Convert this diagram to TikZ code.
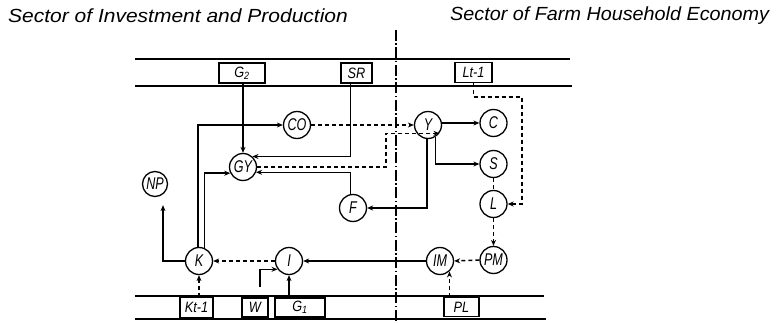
\documentclass[tikz,border=0pt]{standalone}
\usepackage{fontspec}
\newfontfamily\hand{Liberation Sans}[FakeStretch=0.85]
\newfontfamily\handc{Liberation Sans}[FakeStretch=0.74]
\usetikzlibrary{arrows.meta,calc}
\begin{document}
\begin{tikzpicture}[x=1pt,y=-1pt,
  ln/.style={line width=1.5pt},
  arr/.style={ln,-{Stealth[length=6pt,width=5pt]}},
  dsh/.style={dash pattern=on 4pt off 3pt},
  circ/.style={circle,draw,line width=1.3pt,minimum size=27pt,inner sep=0pt,
    font=\handc\itshape\fontsize{17}{17}\selectfont},
  lbox/.style={draw,line width=1.3pt,inner sep=0pt,
    font=\hand\itshape\fontsize{15}{15}\selectfont},
  hdr/.style={anchor=west,inner sep=0pt,font=\hand\itshape\fontsize{19}{19}\selectfont},
  sep/.style={line width=1.1pt,dash pattern=on 11pt off 2.5pt on 1.5pt off 2.5pt}
]
\useasboundingbox (0,0) rectangle (777,323);

% headers
\node[hdr] (h1) at (8,16) {\scalebox{1.30}[1]{Sector of Investment and Production}};
\node[hdr] (h2) at (450,16) {\scalebox{1.225}[1]{Sector of Farm Household Economy}};

% separator and bands
\coordinate (sepT) at (396,30);
\coordinate (sepB) at (396,323);
\draw[sep] (sepT) -- (sepB);
\coordinate (t1a) at (135,59);  \coordinate (t1b) at (570,59);
\coordinate (t2a) at (135,86);  \coordinate (t2b) at (572,86);
\coordinate (b1a) at (135,296); \coordinate (b1b) at (544,296);
\coordinate (b2a) at (135,319); \coordinate (b2b) at (546,319);
\draw[ln] (t1a) -- (t1b);
\draw[ln] (t2a) -- (t2b);
\draw[ln] (b1a) -- (b1b);
\draw[ln] (b2a) -- (b2b);

% boxes
\node[lbox,minimum width=46pt,minimum height=20pt] (G2) at (242,73) {G\textsubscript{2}};
\node[lbox,minimum width=31pt,minimum height=20pt] (SR) at (356.5,73) {SR};
\node[lbox,minimum width=37pt,minimum height=20pt] (Lt) at (473.5,72.5) {Lt-1};
\node[lbox,minimum width=33pt,minimum height=20pt] (Kt) at (196.5,307.5) {Kt-1};
\node[lbox,minimum width=26pt,minimum height=19pt] (W) at (255,307.5) {W};
\node[lbox,minimum width=50pt,minimum height=19pt] (G1) at (300,307.5) {G\textsubscript{1}};
\node[lbox,minimum width=35pt,minimum height=19pt] (PL) at (461.5,307) {PL};

% circles
\node[circ] (CO) at (297,125) {CO};
\node[circ] (GY) at (243,167) {GY};
\node[circ,minimum size=25pt] (NP) at (155,184) {NP};
\node[circ] (Y) at (428,125) {Y};
\node[circ] (C) at (493.5,123) {C};
\node[circ] (S) at (493.5,164) {S};
\node[circ] (L) at (493.5,204) {L};
\node[circ] (F) at (353,208) {F};
\node[circ] (K) at (199,261) {K};
\node[circ] (I) at (289,261) {I};
\node[circ] (IM) at (440,261) {IM};
\node[circ] (PM) at (493.5,260) {PM};

% bend points
\coordinate (gyb) at (386,150);
\coordinate (ltb) at (522,97);

% connectors: investment and production
\draw[arr] (G2.south -| GY.north) -- (GY.north);
\draw[arr] ([xshift=-6pt]SR.south) |- (GY.48);
\draw[arr] (F.100) |- (GY.-22);
\draw[arr,dsh] (GY.east) -| (gyb |- Y.-36) -- (Y.-36);
\draw[arr,dsh] (CO.east) -- (Y.west);
\draw[arr] (K.94) |- (CO.west);
\draw[arr] (K.68) |- (GY.206);
\draw[arr,shorten >=8pt] (K.west) -| ([xshift=8pt]NP.south);
\draw[arr,dsh] (I.west) -- (K.east);
\draw[arr] (IM.west) -- (I.east);
\draw[arr,shorten <=10pt] ([xshift=5pt]W.north) |- (I.216);
\draw[arr] (I.south |- G1.north) -- (I.south);
\draw[arr,dsh] (K.south |- Kt.north) -- (K.south);

% connectors: farm household
\draw[arr] (Y.east |- C.west) -- (C.west);
\draw[arr] (Y.-59) |- (S.west);
\draw[arr] (Y.-94) |- (F.east);
\draw[ln,dsh] (S.south) -- (L.north);
\draw[arr,dsh] (Lt.south) |- (ltb) |- (L.east);
\draw[arr,dsh] (L.south) -- (PM.north);
\draw[arr,dsh] (PM.west) -- (IM.east);
\draw[arr,dsh] (IM.-48 |- PL.north) -- (IM.-48);
\end{tikzpicture}
\end{document}
